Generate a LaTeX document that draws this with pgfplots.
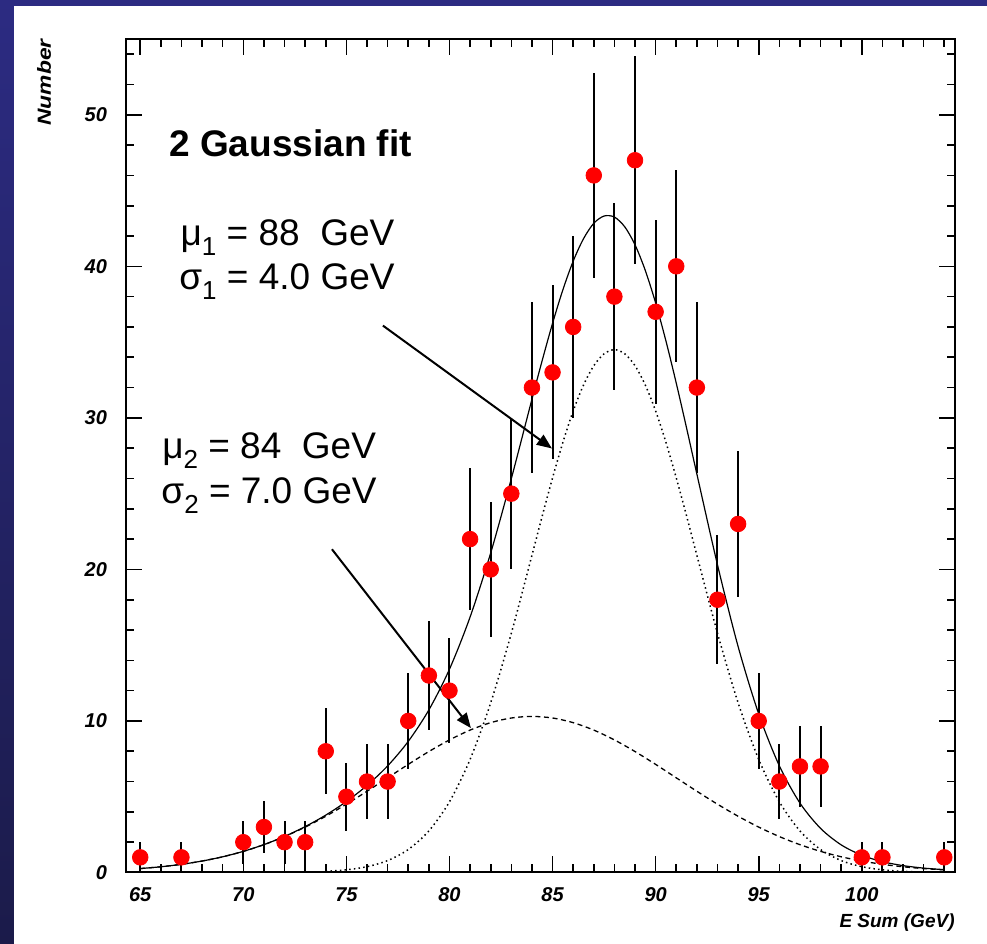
\documentclass[border=0pt]{standalone}
\usepackage{fontspec}
\setmainfont{Liberation Sans}
\usepackage{pgfplots}
\usepackage{pgfplotstable}
\pgfplotsset{compat=1.18}
\usetikzlibrary{arrows.meta}
\definecolor{slidetop}{RGB}{44,43,130}
\definecolor{slidemid}{RGB}{52,52,152}
\definecolor{slidebot}{RGB}{27,27,74}
\newcommand\sub[1]{\raisebox{-0.28em}{\fontsize{13}{13}\selectfont #1}}

\pgfplotstableread{
x y e
65 1 1
67 1 1
70 2 1.414
71 3 1.732
72 2 1.414
73 2 1.414
74 8 2.828
75 5 2.236
76 6 2.449
77 6 2.449
78 10 3.162
79 13 3.606
80 12 3.464
81 22 4.690
82 20 4.472
83 25 5.000
84 32 5.657
85 33 5.745
86 36 6.000
87 46 6.782
88 38 6.164
89 47 6.856
90 37 6.083
91 40 6.325
92 32 5.657
93 18 4.243
94 23 4.796
95 10 3.162
96 6 2.449
97 7 2.646
98 7 2.646
100 1 1
101 1 1
104 1 1
}\datatable

\pgfplotstableread{
x y
65 0.259
66 0.378
67 0.540
68 0.756
69 1.037
70 1.395
71 1.840
72 2.382
73 3.027
74 3.788
75 4.683
76 5.744
77 7.033
78 8.650
79 10.726
80 13.417
81 16.859
82 21.09
83 25.99
84 31.23
84.5 33.80
85 36.24
85.5 38.45
86 40.34
86.5 41.82
87 42.84
87.5 43.32
88 43.25
88.5 42.61
89 41.42
89.5 39.72
90 37.58
90.5 35.07
91 32.29
91.5 29.33
92 26.29
93 20.30
94 14.91
95 10.46
96 7.039
97 4.581
98 2.910
99 1.823
100 1.139
101 0.716
102 0.454
103 0.290
104 0.186
}\totaltable

\pgfplotstableread{
x y
74 0.0755
75 0.1755
76 0.383
77 0.786
78 1.516
79 2.745
80 4.669
81 7.462
82 11.20
83 15.79
84 20.93
84.5 23.53
85 26.04
85.5 28.38
86 30.45
86.5 32.16
87 33.44
87.5 34.23
88 34.50
88.5 34.23
89 33.44
89.5 32.16
90 30.45
90.5 28.38
91 26.04
91.5 23.53
92 20.93
93 15.79
94 11.20
95 7.462
96 4.669
97 2.745
98 1.516
99 0.786
100 0.383
101 0.1755
102 0.0755
103 0.0305
}\gaussone

\pgfplotstableread{
x y
65 0.259
66 0.378
67 0.540
68 0.756
69 1.037
70 1.394
71 1.836
72 2.370
73 2.996
74 3.712
75 4.507
76 5.361
77 6.247
78 7.134
79 7.981
80 8.748
81 9.397
82 9.888
83 10.195
84 10.30
85 10.195
86 9.888
87 9.397
88 8.748
89 7.981
90 7.134
91 6.247
92 5.361
93 4.507
94 3.712
95 2.996
96 2.370
97 1.836
98 1.394
99 1.037
100 0.756
101 0.540
102 0.378
103 0.259
104 0.174
}\gausstwo

\begin{document}
\begin{tikzpicture}
\useasboundingbox (0,0) rectangle (493.5pt,472pt);
\shade[top color=slidetop, middle color=slidemid, bottom color=slidebot] (0,0) rectangle (493.5pt,472pt);
\fill[white] (7pt,0) rectangle (493.5pt,469pt);
\begin{axis}[
  scale only axis,
  width=414.5pt, height=416.75pt,
  at={(63pt,35.75pt)}, anchor=south west,
  xmin=64.31, xmax=104.52, ymin=0, ymax=55,
  xtick={65,70,...,100}, ytick={0,10,...,50},
  minor xtick={65,...,104}, minor ytick={0,2,...,54},
  tick align=inside,
  major tick length=8pt, minor tick length=4pt,
  every tick/.style={black, line width=0.8pt},
  axis line style={line width=1pt},
  ticklabel style={font=\fontsize{10}{11}\selectfont\bfseries\itshape},
  /pgf/number format/assume math mode=true,
  xticklabel style={yshift=-4pt},
  yticklabel style={xshift=-6pt},
]
\addplot[black, line width=0.6pt, smooth, no marks] table[x=x,y=y] {\totaltable};
\addplot[black, line width=0.75pt, dash pattern=on 0.75pt off 1.6pt, smooth, no marks] table[x=x,y=y] {\gaussone};
\addplot[black, line width=0.65pt, dash pattern=on 2.5pt off 1.8pt, smooth, no marks] table[x=x,y=y] {\gausstwo};
\addplot[only marks, mark=*, mark size=3.9pt, red, mark options={fill=red, draw=red},
  error bars/.cd, y dir=both, y explicit, error mark=none,
  error bar style={black, line width=1pt}]
  table[x=x, y=y, y error=e] {\datatable};

\node[anchor=base west, inner sep=0, font=\fontsize{18.5}{20}\selectfont\bfseries] at (axis cs:66.39,47.23) {2 Gaussian fit};
\node[anchor=base west, inner sep=0, font=\fontsize{18.5}{20}\selectfont] at (axis cs:66.94,41.37) {μ\sub{1} = 88~~GeV};
\node[anchor=base west, inner sep=0, font=\fontsize{18.5}{20}\selectfont] at (axis cs:66.88,38.47) {σ\sub{1} = 4.0 GeV};
\node[anchor=base west, inner sep=0, font=\fontsize{18.5}{20}\selectfont] at (axis cs:66.05,27.32) {μ\sub{2} = 84~~GeV};
\node[anchor=base west, inner sep=0, font=\fontsize{18.5}{20}\selectfont] at (axis cs:66.01,24.36) {σ\sub{2} = 7.0 GeV};
\draw[line width=1pt, -{Triangle[length=7.5pt,width=6pt]}] (axis cs:76.77,36.09) -- (axis cs:84.97,27.98);
\draw[line width=1pt, -{Triangle[length=7.5pt,width=6pt]}] (axis cs:74.30,21.33) -- (axis cs:81.04,9.53);
\end{axis}
\node[rotate=90, anchor=east, inner sep=0, font=\fontsize{9.5}{10}\selectfont\bfseries\itshape] at (22pt,452.5pt) {\scalebox{1.2}[1]{Number}};
\node[anchor=east, inner sep=0, font=\fontsize{9.5}{10}\selectfont\bfseries\itshape] at (477.5pt,10.5pt) {E Sum (GeV)};
\end{tikzpicture}
\end{document}
